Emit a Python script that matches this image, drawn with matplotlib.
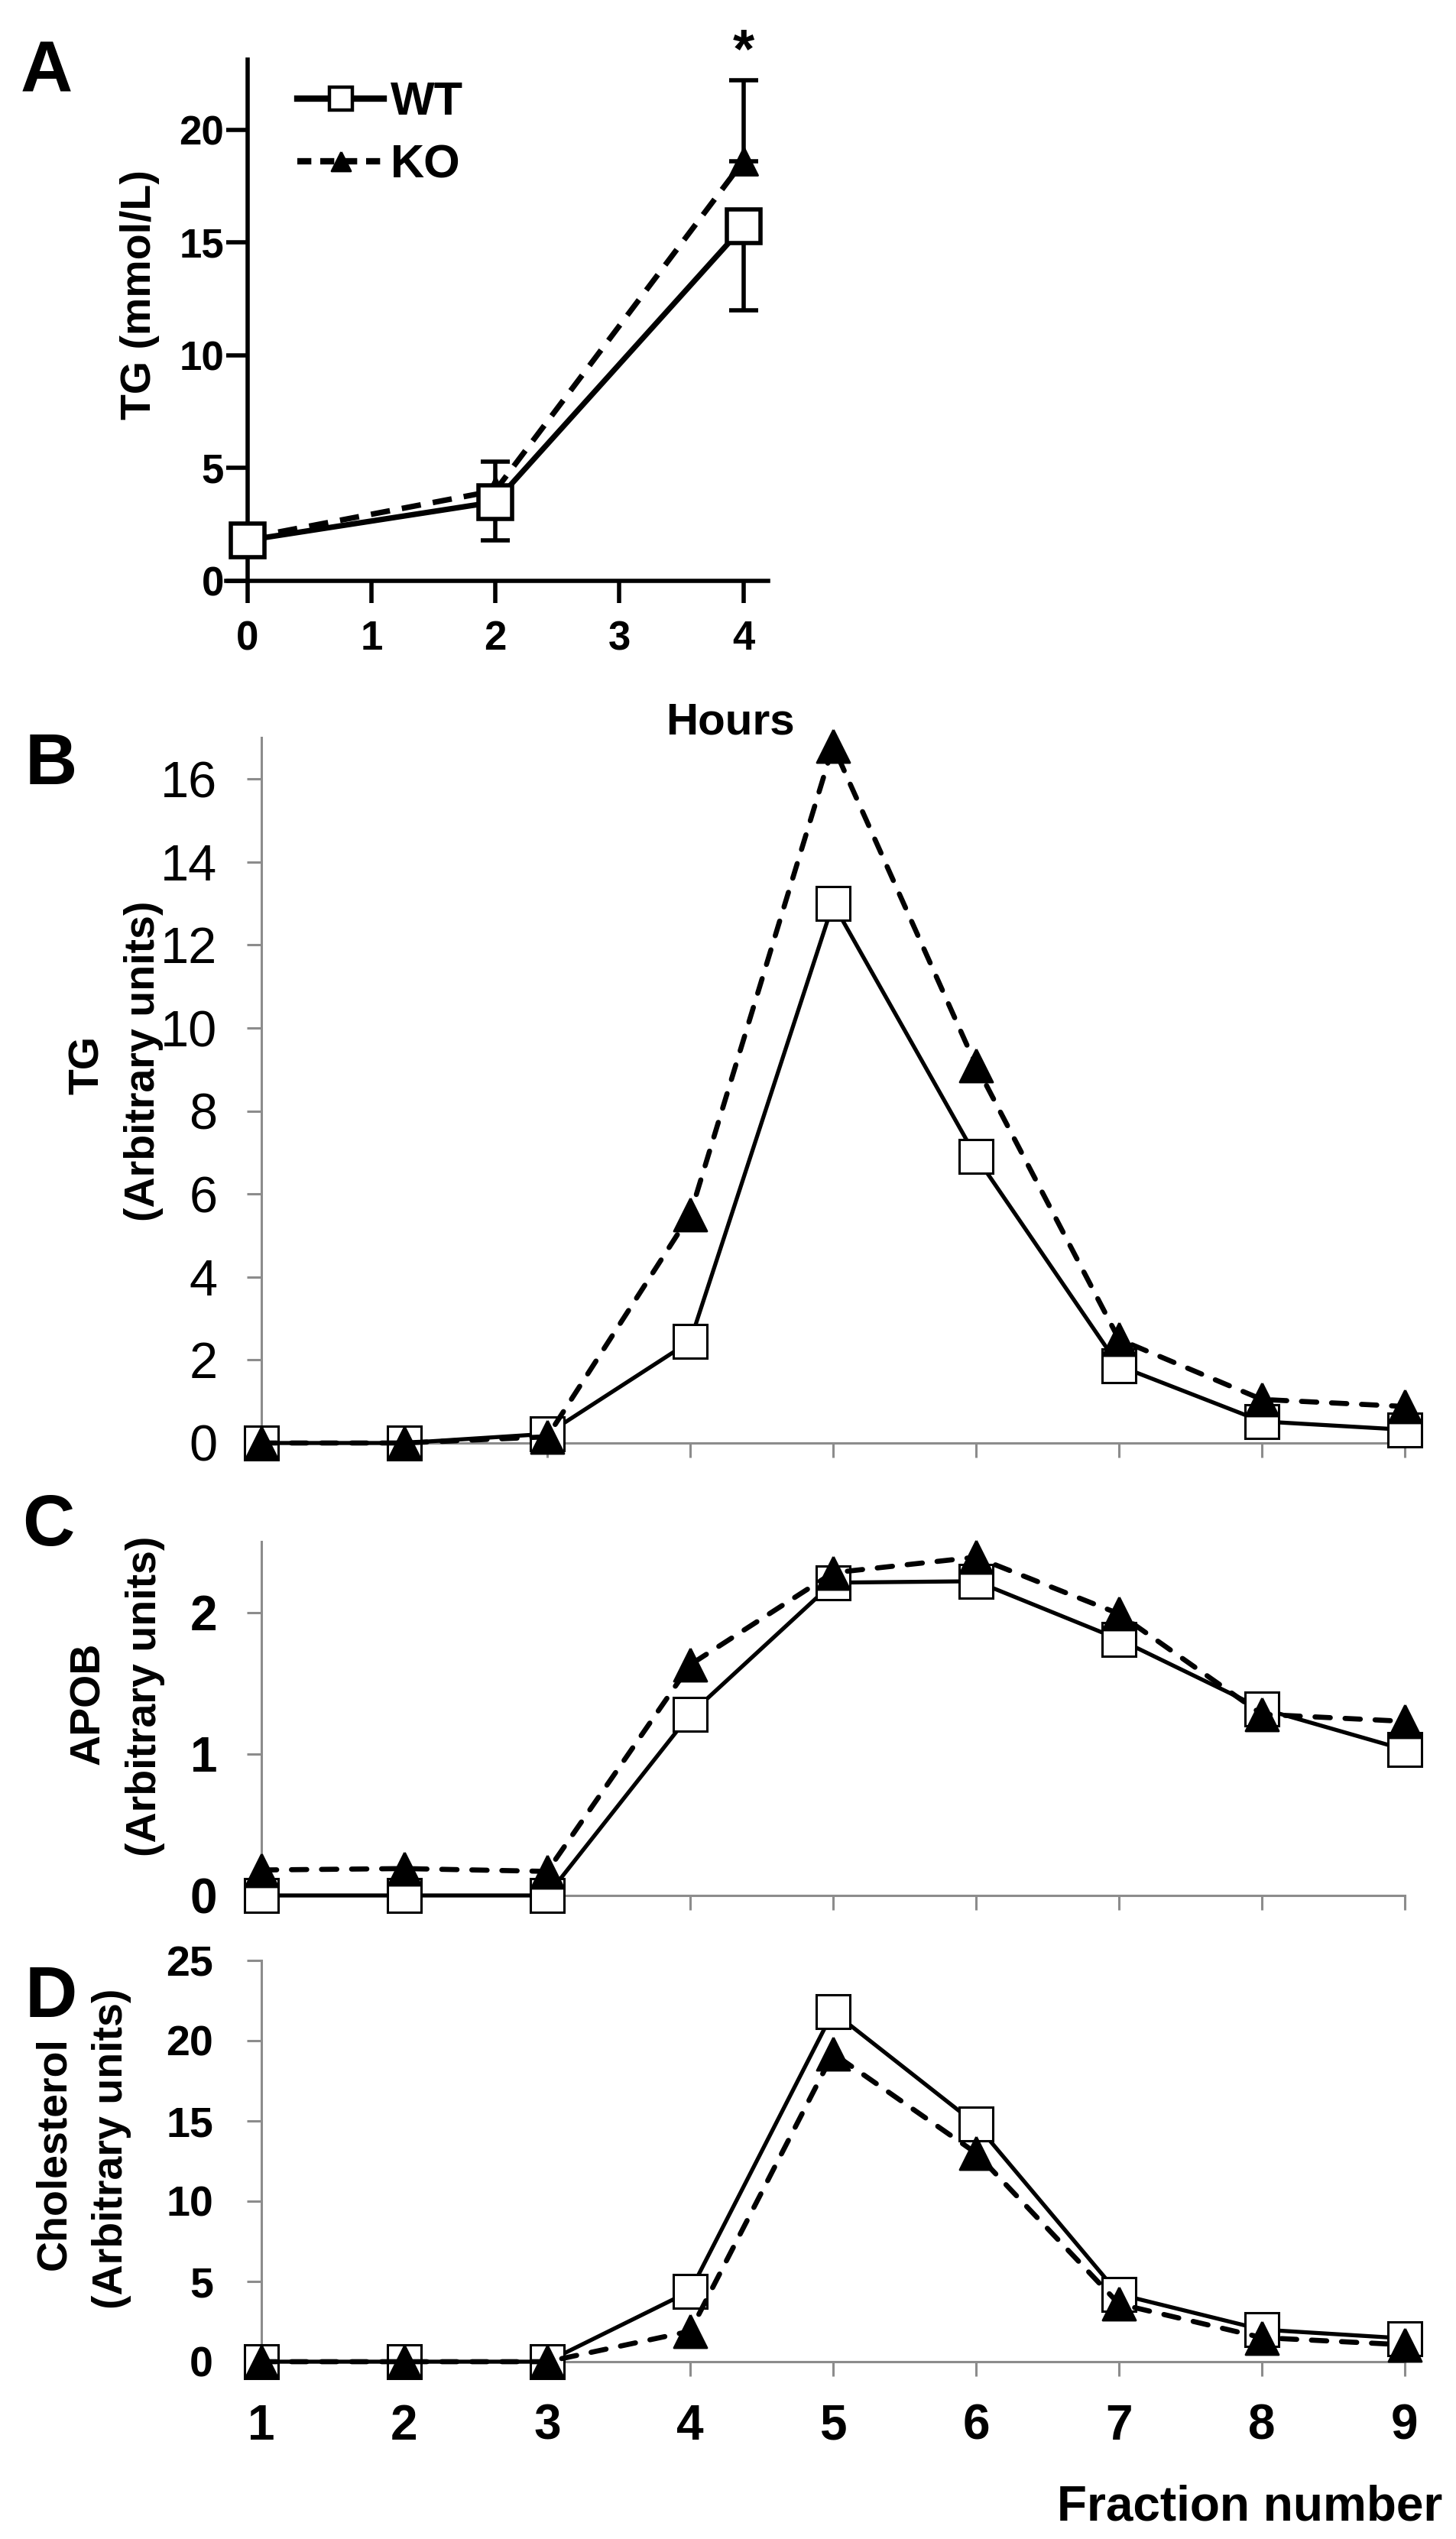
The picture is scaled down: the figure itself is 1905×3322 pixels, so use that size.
"""Lipid panels A-D: TG time course (A) and fraction profiles (B-D), WT vs KO."""

import matplotlib

matplotlib.use("Agg")
import matplotlib.pyplot as plt
from matplotlib.lines import Line2D

plt.rcParams["font.family"] = ["Liberation Sans", "DejaVu Sans"]

# ---- data ----
hours = [0, 2, 4]
a_wt = [1.8, 3.5, 15.7]
a_ko = [1.9, 4.0, 18.6]
a_wt_err_lo = [0.0, 1.7, 3.7]
a_wt_err_hi = [0.0, 1.8, 0.0]
a_ko_err_lo = [0.0, 0.0, 0.0]
a_ko_err_hi = [0.0, 0.0, 3.6]

fractions = [1, 2, 3, 4, 5, 6, 7, 8, 9]
tg_wt = [0.0, 0.0, 0.22, 2.45, 13.0, 6.9, 1.86, 0.52, 0.32]
tg_ko = [0.0, 0.0, 0.15, 5.5, 16.8, 9.1, 2.5, 1.05, 0.88]
apob_wt = [0.0, 0.0, 0.0, 1.28, 2.21, 2.22, 1.81, 1.32, 1.03]
apob_ko = [0.18, 0.19, 0.17, 1.63, 2.28, 2.39, 1.99, 1.28, 1.23]
chol_wt = [0.0, 0.0, 0.0, 4.4, 21.8, 14.8, 4.2, 2.0, 1.45]
chol_ko = [0.0, 0.0, 0.0, 1.9, 19.2, 13.0, 3.6, 1.5, 1.05]

W, H, DPI = 1906, 3322, 200
GRAY = "#8c8c8c"
TRI = [(0, 1), (-1, -1), (1, -1), (0, 1)]  # bbox-centred triangle, like Excel


def box(left, right, top, bottom):
    return [left / W, 1 - bottom / H, (right - left) / W, (bottom - top) / H]


def ftext(x, y, s, **kw):
    fig.text(x / W, 1 - y / H, s, **kw)


fig = plt.figure(figsize=(W / DPI, H / DPI), dpi=DPI)

# ---- panel A ----
ax = fig.add_axes(box(296, 1005, 78, 760))
ax.errorbar(hours, a_wt, yerr=[a_wt_err_lo, a_wt_err_hi], fmt="none", ecolor="black",
            elinewidth=2.0, capsize=7, capthick=2.0, zorder=2, clip_on=False)
ax.errorbar(hours, a_ko, yerr=[a_ko_err_lo, a_ko_err_hi], fmt="none", ecolor="black",
            elinewidth=2.0, capsize=7, capthick=2.0, zorder=2, clip_on=False)
ax.plot(hours, a_ko, color="black", lw=2.6, dashes=(3.5, 2.2), marker=TRI, ms=13,
        mfc="black", mec="black", zorder=3, clip_on=False)
ax.plot(hours, a_wt, color="black", lw=2.6, marker="s", ms=15.5, mfc="white",
        mec="black", mew=2.0, zorder=4, clip_on=False)
ax.set_xlim(-0.17, 4.2)
ax.set_ylim(0, 23.1)
ax.set_xticks([0, 1, 2, 3, 4])
ax.set_yticks([0, 5, 10, 15, 20])
for side in ("top", "right"):
    ax.spines[side].set_visible(False)
ax.spines["left"].set_position(("data", 0))
for side in ("left", "bottom"):
    ax.spines[side].set_linewidth(2.0)
ax.tick_params(axis="x", direction="out", length=10.5, width=2.0, pad=8, labelsize=19)
ax.tick_params(axis="y", direction="out", length=10, width=2.0, pad=1, labelsize=19)
for lab in ax.get_xticklabels() + ax.get_yticklabels():
    lab.set_fontweight("bold")

handles = [
    Line2D([], [], color="black", lw=3.0, marker="s", ms=10.5, mfc="white", mec="black", mew=1.6),
    Line2D([], [], color="black", lw=3.0, dashes=(2.2, 1.4), marker=TRI, ms=9, mfc="black"),
]
ax.legend(handles, ["WT", "KO"], loc="upper left", bbox_to_anchor=(389 / W, 1 - 106 / H),
          bbox_transform=fig.transFigure, frameon=False, borderpad=0, borderaxespad=0,
          handlelength=1.85, handletextpad=0.15, labelspacing=0.42,
          prop={"size": 22, "weight": "bold"})

ftext(183, 386, "TG (mmol/L)", rotation=90, ha="center", va="center",
      fontsize=20, fontweight="bold")
ftext(955, 960, "Hours", ha="center", va="baseline", fontsize=21, fontweight="bold")
ftext(973, 88, "*", ha="center", va="baseline", fontsize=26, fontweight="bold")


# ---- panels B-D ----
def fraction_panel(top, bottom, wt, ko, ymax, yticks, ylabel_lines, ytick_size,
                   ytick_bold, ytick_pad, show_x):
    ax = fig.add_axes(box(342, 1838, top, bottom))
    ax.plot(fractions, wt, color="black", lw=1.9, marker="s", ms=15.5, mfc="white",
            mec="black", mew=1.1, zorder=3, clip_on=False)
    ax.plot(fractions, ko, color="black", lw=2.4, dashes=(3, 2.9), dash_capstyle="round",
            marker=TRI, ms=15.5, mfc="black", mec="black", zorder=4, clip_on=False)
    ax.set_xlim(1, 9)
    ax.set_ylim(0, ymax)
    ax.set_xticks(fractions)
    ax.set_yticks(yticks)
    for side in ("top", "right"):
        ax.spines[side].set_visible(False)
    for side in ("left", "bottom"):
        ax.spines[side].set_color(GRAY)
        ax.spines[side].set_linewidth(1.1)
    ax.tick_params(axis="both", direction="out", length=6.7, width=1.1, color=GRAY)
    ax.tick_params(axis="y", pad=ytick_pad, labelsize=ytick_size)
    ax.tick_params(axis="x", pad=13, labelsize=23, labelbottom=show_x)
    for lab in ax.get_yticklabels():
        lab.set_fontweight("bold" if ytick_bold else "normal")
    for lab in ax.get_xticklabels():
        lab.set_fontweight("bold")
    # two-line y label, one text per line
    for text, x, y in ylabel_lines:
        ftext(x, y, text, rotation=90, ha="center", va="center",
              fontsize=20, fontweight="bold")
    return ax


fraction_panel(965, 1888, tg_wt, tg_ko, 17, [0, 2, 4, 6, 8, 10, 12, 14, 16],
               [("TG", 115, 1393), ("(Arbitrary units)", 188, 1388)], 24, False, 14, False)
fraction_panel(2017, 2480, apob_wt, apob_ko, 2.5, [0, 1, 2],
               [("APOB", 116, 2229), ("(Arbitrary units)", 190, 2219)], 23, True, 14, False)
fraction_panel(2565, 3090, chol_wt, chol_ko, 25, [0, 5, 10, 15, 20, 25],
               [("Cholesterol", 71, 2818), ("(Arbitrary units)", 146, 2811)], 20, True, 16, True)

ftext(1887, 3297, "Fraction number", ha="right", va="baseline", fontsize=23,
      fontweight="bold")

# panel letters
for letter, x, y in (("A", 27, 120), ("B", 33, 1026), ("C", 29, 2022), ("D", 33, 2639)):
    ftext(x, y, letter, ha="left", va="baseline", fontsize=34, fontweight="bold")

fig.savefig("out.png", dpi=DPI)
